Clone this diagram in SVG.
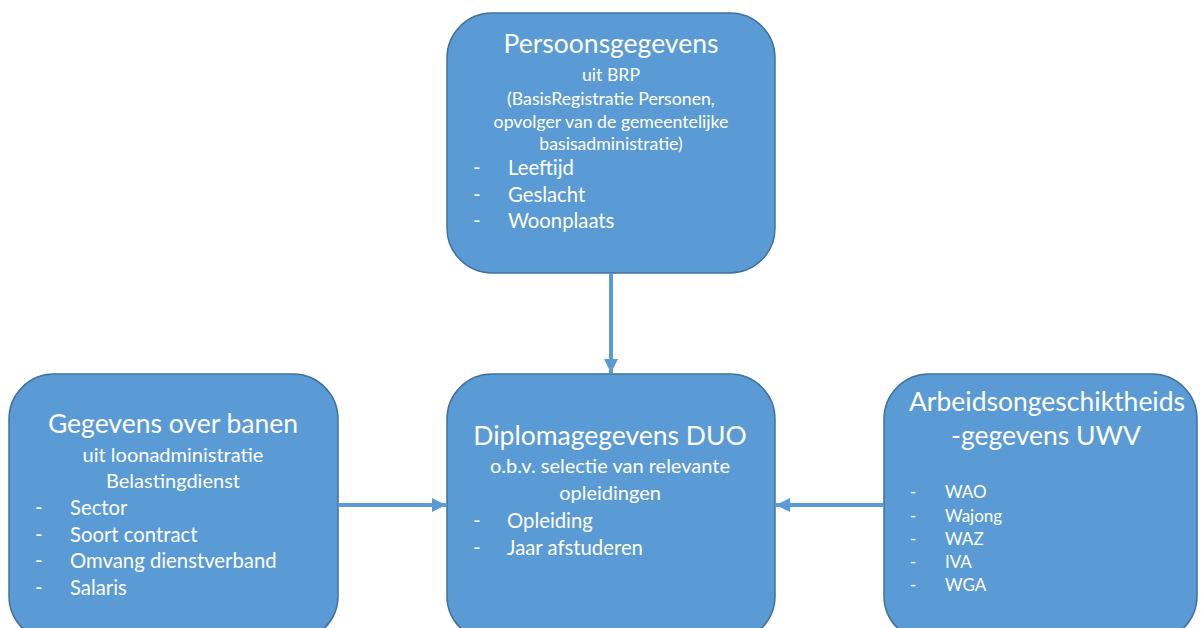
<svg xmlns="http://www.w3.org/2000/svg" width="1201" height="628" viewBox="0 0 1201 628">
  <defs>
    <marker id="ah" viewBox="0 0 10 10" refX="10" refY="5" markerWidth="3.5" markerHeight="3.5" orient="auto" markerUnits="strokeWidth">
      <path d="M0,0 L10,5 L0,10 z" fill="#5B9BD5"/>
    </marker>
    <style>
      .box { fill: #5B9BD5; stroke: #41719C; stroke-width: 1.5; }
      .t { font-family: Lato, "Liberation Sans", sans-serif; fill: #FFFFFF; }
      .title { font-size: 26.5px; text-anchor: middle; }
      .sub { font-size: 17.7px; text-anchor: middle; }
      .subl { font-size: 20px; text-anchor: middle; }
      .li { font-size: 20.3px; }
      .ls { font-size: 17px; }
      .conn { stroke: #5B9BD5; stroke-width: 4; fill: none; marker-end: url(#ah); }
    </style>
  </defs>
  <rect width="1201" height="628" fill="#FFFFFF"/>

  <g id="connectors">
    <line class="conn" x1="611" y1="274" x2="611" y2="373"/>
    <line class="conn" x1="339" y1="505" x2="446" y2="505"/>
    <line class="conn" x1="883" y1="505" x2="776" y2="505"/>
  </g>

  <g id="persoonsgegevens">
    <rect class="box" x="447" y="13" width="328" height="260" rx="45" ry="45"/>
    <text class="t title" x="611" y="53">Persoonsgegevens</text>
    <text class="t sub" x="611" y="81">uit BRP</text>
    <text class="t sub" x="611" y="105">(BasisRegistratie Personen,</text>
    <text class="t sub" x="611" y="128">opvolger van de gemeentelijke</text>
    <text class="t sub" x="611" y="150">basisadministratie)</text>
    <text class="t li" x="473" y="175">-</text><text class="t li" x="508" y="175">Leeftijd</text>
    <text class="t li" x="473" y="202">-</text><text class="t li" x="508" y="202">Geslacht</text>
    <text class="t li" x="473" y="228">-</text><text class="t li" x="508" y="228">Woonplaats</text>
  </g>

  <g id="banen">
    <rect class="box" x="9" y="374" width="329" height="267" rx="45" ry="45"/>
    <text class="t title" x="173" y="433">Gegevens over banen</text>
    <text class="t subl" x="173" y="462">uit loonadministratie</text>
    <text class="t subl" x="173" y="488">Belastingdienst</text>
    <text class="t li" x="35" y="515">-</text><text class="t li" x="70" y="515">Sector</text>
    <text class="t li" x="35" y="542">-</text><text class="t li" x="70" y="542">Soort contract</text>
    <text class="t li" x="35" y="568">-</text><text class="t li" x="70" y="568">Omvang dienstverband</text>
    <text class="t li" x="35" y="595">-</text><text class="t li" x="70" y="595">Salaris</text>
  </g>

  <g id="diploma">
    <rect class="box" x="447" y="374" width="328" height="267" rx="45" ry="45"/>
    <text class="t title" x="610" y="445">Diplomagegevens DUO</text>
    <text class="t subl" x="610" y="473">o.b.v. selectie van relevante</text>
    <text class="t subl" x="610" y="500">opleidingen</text>
    <text class="t li" x="473" y="528">-</text><text class="t li" x="507" y="528">Opleiding</text>
    <text class="t li" x="473" y="555">-</text><text class="t li" x="507" y="555">Jaar afstuderen</text>
  </g>

  <g id="uwv">
    <rect class="box" x="884" y="374" width="313" height="267" rx="45" ry="45"/>
    <text class="t title" x="1047" y="411">Arbeidsongeschiktheids</text>
    <text class="t title" x="1046" y="445">-gegevens UWV</text>
    <text class="t ls" x="910" y="498">-</text><text class="t ls" x="945" y="498">WAO</text>
    <text class="t ls" x="910" y="522">-</text><text class="t ls" x="945" y="522">Wajong</text>
    <text class="t ls" x="910" y="545">-</text><text class="t ls" x="945" y="545">WAZ</text>
    <text class="t ls" x="910" y="568">-</text><text class="t ls" x="945" y="568">IVA</text>
    <text class="t ls" x="910" y="591">-</text><text class="t ls" x="945" y="591">WGA</text>
  </g>
</svg>
